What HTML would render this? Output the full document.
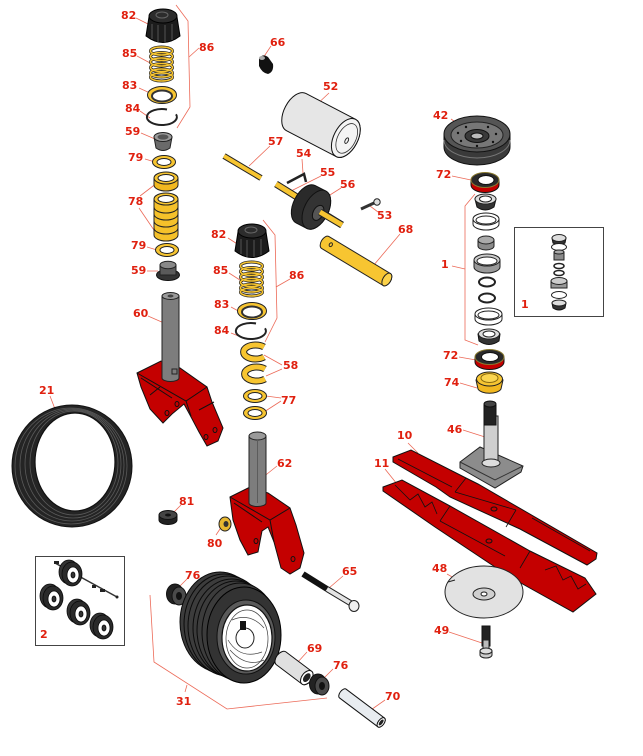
<!DOCTYPE html>
<html><head><meta charset="utf-8"><style>
html,body{margin:0;padding:0;background:#fff;}
svg{display:block;}
text{font-family:"DejaVu Sans","Liberation Sans",sans-serif;font-weight:bold;font-size:11px;fill:#e0200f;}
</style></head><body>
<svg width="643" height="756" viewBox="0 0 643 756" xmlns="http://www.w3.org/2000/svg" xmlns:xlink="http://www.w3.org/1999/xlink">
<defs>
  <g id="knob">
    <path d="M-14,1 L-17,20 Q0,33 17,20 L14,1 Z" fill="#1c1c1c" stroke="#000"/>
    <path d="M-11,8 V23 M-5,9 V26 M2,9 V26 M9,8 V24" stroke="#555"/>
    <ellipse cx="0" cy="0" rx="14" ry="7" fill="#2c2c2c" stroke="#000"/>
    <ellipse cx="-1" cy="-1" rx="6" ry="3" fill="none" stroke="#666"/>
  </g>
  <path id="coil" d="M-11,0 a11,4 0 1 0 22,0 a11,4 0 1 0 -22,0 M-11,5.5 a11,4 0 1 0 22,0 a11,4 0 1 0 -22,0 M-11,11 a11,4 0 1 0 22,0 a11,4 0 1 0 -22,0 M-11,16.5 a11,4 0 1 0 22,0 a11,4 0 1 0 -22,0 M-11,22 a11,4 0 1 0 22,0 a11,4 0 1 0 -22,0 M-11,26 a11,4 0 1 0 22,0 a11,4 0 1 0 -22,0"/>
  <g id="spring" fill="none">
    <use xlink:href="#coil" href="#coil" stroke="#222" stroke-width="3"/>
    <use xlink:href="#coil" href="#coil" stroke="#f7c531" stroke-width="1.6"/>
  </g>
  <g id="washer">
    <ellipse cx="0" cy="0" rx="11.5" ry="6.5" fill="#f7c531" stroke="#222"/>
    <ellipse cx="0" cy="0" rx="7" ry="3.5" fill="#fff" stroke="#222"/>
  </g>
  <g id="ring83">
    <ellipse cx="0" cy="0" rx="14.5" ry="8.5" fill="#f7c531" stroke="#222"/>
    <ellipse cx="0" cy="1" rx="10" ry="5.5" fill="#fff" stroke="#333" stroke-width="2"/>
  </g>
  <path id="snap" d="M14,-2.7 A15,8 0 1 1 5,-7.5" fill="none" stroke="#222" stroke-width="2"/>
  <g id="clip" fill="none">
    <path d="M10,-5 A12,7 0 1 0 10,5" stroke="#222" stroke-width="7"/>
    <path d="M10,-5 A12,7 0 1 0 10,5" stroke="#f7c531" stroke-width="5"/>
  </g>
  <g id="swhl" stroke="#0a0a0a" stroke-width="0.8">
    <ellipse cx="-3" cy="-2" rx="10" ry="12" fill="#333"/>
    <ellipse cx="0" cy="0" rx="10" ry="12" fill="#2a2a2a"/>
    <ellipse cx="1" cy="1" rx="6" ry="8" fill="#fff"/>
    <ellipse cx="1" cy="1" rx="2" ry="3" fill="#333"/>
  </g>
  <g id="bush">
    <ellipse cx="-4" cy="-2" rx="8.5" ry="10" fill="#222" stroke="#111"/>
    <ellipse cx="0" cy="0" rx="7" ry="9" fill="#4a4a4a" stroke="#111"/>
    <ellipse cx="0" cy="0" rx="3" ry="4" fill="#111"/>
  </g>
</defs>
<rect width="643" height="756" fill="#fff"/>

<g stroke="#ec6a58" stroke-width="0.8" fill="none">
  <polyline points="176,5 188,21 190,107 177,128"/>
  <polyline points="263,220 275,235 277,318 265,342"/>
  <polyline points="150,595 154,662 227,709 327,698"/>
  <polyline points="475,194 465,206 465,340 478,345"/>
  <path d="M199,48 L189,57 M136,18 L150,25 M137,56 L152,64 M139,88 L150,93 M140,111 L150,118 M141,133 L155,139 M145,159 L155,162 M140,196 L157,183 M139,208 L158,236 M147,247 L157,250 M147,271 L158,271 M148,316 L164,323 M50,396 L55,409"/>
  <path d="M271,46 L263,58 M329,93 L313,108 M270,146 L249,166 M302,159 L303,173 M321,176 L291,191 M341,188 L322,200 M378,212 L370,206 M400,234 L373,266"/>
  <path d="M290,279 L276,287 M228,238 L242,247 M229,273 L243,282 M231,307 L242,313 M231,333 L241,337 M282,365 L264,355 M282,369 L266,376 M281,398 L266,396 M281,401 L264,412 M277,466 L262,478"/>
  <path d="M181,505 L172,514 M216,535 L222,526 M188,578 L178,588 M343,576 L329,588 M307,652 L297,663 M333,669 L322,680 M385,700 L368,712 M187,685 L185,692"/>
  <path d="M451,119 L461,126 M452,176 L471,180 M452,266 L465,269 M459,357 L476,360 M460,383 L477,388 M463,430 L485,437 M408,443 L418,453 M385,469 L397,484 M447,574 L461,582 M449,632 L482,643"/>
</g>

<!-- column 1 -->
<use xlink:href="#knob" href="#knob" x="163" y="16"/>
<use xlink:href="#spring" href="#spring" x="161.5" y="51"/>
<use xlink:href="#ring83" href="#ring83" x="162" y="95"/>
<use xlink:href="#snap" href="#snap" x="162" y="117"/>
<path d="M154,137 L156,148 Q163,153 170,148 L172,137 Z" fill="#6a6a6a" stroke="#222"/>
<ellipse cx="163" cy="137" rx="9" ry="4.5" fill="#9a9a9a" stroke="#222"/>
<ellipse cx="163" cy="137" rx="5.5" ry="2.6" fill="#555"/>
<use xlink:href="#washer" href="#washer" x="164" y="162"/>
<path d="M154,178 L154,185 A12,6 0 0 0 178,185 L178,178 Z" fill="#f2b820" stroke="#222"/>
<ellipse cx="166" cy="178" rx="12" ry="6" fill="#f7c531" stroke="#222"/>
<ellipse cx="166" cy="178" rx="8" ry="3.5" fill="#fff" stroke="#222"/>
<path d="M154,199 L154,235 A12,6 0 0 0 178,235 L178,199 Z" fill="#f5c12a" stroke="#222"/>
<path d="M154,207 A12,6 0 0 0 178,207 M154,214 A12,6 0 0 0 178,214 M154,221 A12,6 0 0 0 178,221 M154,228 A12,6 0 0 0 178,228" fill="none" stroke="#222"/>
<ellipse cx="166" cy="199" rx="12" ry="6" fill="#f7c531" stroke="#222"/>
<ellipse cx="166" cy="199" rx="8" ry="3.5" fill="#fff" stroke="#222"/>
<use xlink:href="#washer" href="#washer" x="167" y="250"/>
<ellipse cx="168" cy="275" rx="11.5" ry="5.5" fill="#333" stroke="#111"/>
<rect x="160" y="265" width="16" height="10" fill="#5a5a5a" stroke="#222"/>
<ellipse cx="168" cy="265" rx="8" ry="3.8" fill="#888" stroke="#222"/>

<!-- bracket 60 -->
<path d="M137,373 L161,361 L180,368 L207,387 L212,402 L223,428 L218,441 L207,446 L199,432 L190,415 L184,404 L172,414 L163,423 L150,409 L141,387 Z" fill="#c40000" stroke="#111"/>
<path d="M137,373 L186,401 L207,387 M186,401 L191,416 M141,378 L172,398 M150,395 L160,387 M199,410 L214,402" stroke="#111" fill="none"/>
<g fill="#c40000" stroke="#111"><ellipse cx="167" cy="413" rx="2" ry="2.5"/><ellipse cx="177" cy="404" rx="2" ry="2.5"/><ellipse cx="206" cy="437" rx="2" ry="2.5"/><ellipse cx="215" cy="430" rx="2" ry="2.5"/></g>
<path d="M162,296 L162,378 A8.5,3.5 0 0 0 179,378 L179,296 Z" fill="#7d7d7d" stroke="#222"/>
<ellipse cx="170.5" cy="296" rx="8.5" ry="3.5" fill="#9a9a9a" stroke="#222"/>
<ellipse cx="170.5" cy="296" rx="3" ry="1.5" fill="#444"/>
<rect x="172" y="369" width="5" height="5" fill="none" stroke="#222"/>

<!-- belt 21 -->
<ellipse cx="72" cy="466" rx="60" ry="61" fill="#242424" stroke="#111"/>
<g fill="none" stroke="#5a5a5a" stroke-width="0.8">
  <ellipse cx="71" cy="466" rx="56" ry="58"/>
  <ellipse cx="72" cy="465" rx="52" ry="56"/>
  <ellipse cx="73" cy="464" rx="48" ry="54"/>
  <ellipse cx="74" cy="463" rx="44" ry="52"/>
</g>
<ellipse cx="75" cy="462" rx="40" ry="49" fill="#fff" stroke="#111" stroke-width="1.2"/>

<!-- column 2 -->
<use xlink:href="#knob" href="#knob" x="252" y="231"/>
<use xlink:href="#spring" href="#spring" x="251.5" y="266"/>
<use xlink:href="#ring83" href="#ring83" x="252" y="311"/>
<use xlink:href="#snap" href="#snap" x="251" y="331"/>
<use xlink:href="#clip" href="#clip" x="254" y="352"/>
<use xlink:href="#clip" href="#clip" x="255" y="374"/>
<use xlink:href="#washer" href="#washer" x="255" y="396"/>
<use xlink:href="#washer" href="#washer" x="255" y="413"/>

<!-- bracket 62 -->
<path d="M230,497 L250,487 L268,493 L290,508 L296,525 L304,553 L300,568 L290,574 L281,568 L274,542 L268,527 L262,531 L258,552 L248,555 L240,540 L233,520 Z" fill="#c40000" stroke="#111"/>
<path d="M230,497 L270,520 L290,508 M270,520 L274,542 M234,503 L262,522" stroke="#111" fill="none"/>
<g fill="#c40000" stroke="#111"><ellipse cx="256" cy="541" rx="2" ry="2.5"/><ellipse cx="293" cy="559" rx="2" ry="2.5"/></g>
<path d="M249,436 L249,503 A8.5,3.5 0 0 0 266,503 L266,436 Z" fill="#7d7d7d" stroke="#222"/>
<ellipse cx="257.5" cy="436" rx="8.5" ry="4" fill="#9a9a9a" stroke="#222"/>
<line x1="257.5" y1="440" x2="257.5" y2="503" stroke="#5c5c5c"/>

<!-- 81, 80, 76 -->
<path d="M159,515 L159,520 A9,4.5 0 0 0 177,520 L177,515 Z" fill="#222" stroke="#111"/>
<ellipse cx="168" cy="515" rx="9" ry="4.5" fill="#444" stroke="#111"/>
<ellipse cx="168" cy="515" rx="3" ry="1.5" fill="#111"/>
<ellipse cx="225" cy="524" rx="6" ry="7" fill="#e8b830" stroke="#222"/>
<ellipse cx="226" cy="524" rx="2.5" ry="3" fill="#333"/>
<use xlink:href="#bush" href="#bush" x="179" y="596"/>

<!-- roller parts -->
<path d="M259,59 Q262,53 268,57 L273,64 Q274,72 268,74 Q262,73 259,66 Z" fill="#111"/>
<ellipse cx="262" cy="58" rx="3" ry="2" fill="#aaa"/>
<g transform="translate(321,125) rotate(27.5)">
  <path d="M-28,-21 L28,-21 A12,21 0 0 1 28,21 L-28,21 A12,21 0 0 1 -28,-21 Z" fill="#e6e6e6" stroke="#111"/>
  <ellipse cx="28" cy="0" rx="12" ry="21" fill="#f4f4f4" stroke="#111"/>
  <ellipse cx="29" cy="0" rx="9" ry="16" fill="none" stroke="#333" stroke-width="0.8"/>
  <ellipse cx="30" cy="2" rx="1.5" ry="3" fill="none" stroke="#222"/>
</g>
<path d="M224,156 L261,178" stroke="#222" stroke-width="6"/>
<path d="M224,156 L261,178" stroke="#f7c531" stroke-width="4"/>
<polyline points="287,183 304,174 306,182" fill="none" stroke="#222" stroke-width="2.5"/>
<path d="M276,184 L342,225" stroke="#222" stroke-width="7"/>
<path d="M276,184 L342,225" stroke="#f7c531" stroke-width="5"/>
<g transform="translate(311,207) rotate(27)">
  <path d="M-6,-21 L6,-21 A12,21 0 0 1 6,21 L-6,21 A12,21 0 0 1 -6,-21 Z" fill="#2a2a2a" stroke="#111"/>
  <ellipse cx="6" cy="0" rx="12" ry="21" fill="#333" stroke="#111"/>
  <ellipse cx="9" cy="2" rx="5" ry="8" fill="#555" stroke="#111"/>
</g>
<path d="M320,212 L342,225" stroke="#222" stroke-width="7"/>
<path d="M320,212 L342,225" stroke="#f7c531" stroke-width="5"/>
<path d="M361,209 L374,203" stroke="#333" stroke-width="3"/>
<circle cx="377" cy="202" r="3.2" fill="#ddd" stroke="#222"/>
<g transform="translate(356,261) rotate(31)">
  <path d="M-36,-7 L36,-7 A4,7 0 0 1 36,7 L-36,7 A4,7 0 0 1 -36,-7 Z" fill="#f7c531" stroke="#222"/>
  <ellipse cx="36" cy="0" rx="4" ry="7" fill="#fbd24a" stroke="#222"/>
  <ellipse cx="-30" cy="-1" rx="1.5" ry="2" fill="none" stroke="#222"/>
</g>

<!-- column 3 -->
<path d="M444,134 L444,147 A33,18 0 0 0 510,147 L510,134 Z" fill="#3a3a3a" stroke="#111"/>
<path d="M444,140 A33,18 0 0 0 510,140" fill="none" stroke="#777"/>
<ellipse cx="477" cy="134" rx="33" ry="18" fill="#555" stroke="#111"/>
<ellipse cx="477" cy="135" rx="26" ry="13" fill="#777" stroke="#222"/>
<ellipse cx="477" cy="136" rx="12" ry="6.5" fill="#3a3a3a" stroke="#111"/>
<ellipse cx="477" cy="136" rx="6" ry="3" fill="#bbb" stroke="#111"/>
<g fill="#111"><circle cx="458" cy="133" r="1.2"/><circle cx="466" cy="127" r="1.2"/><circle cx="488" cy="127" r="1.2"/><circle cx="496" cy="134" r="1.2"/><circle cx="461" cy="141" r="1.2"/><circle cx="493" cy="142" r="1.2"/><circle cx="477" cy="146" r="1.2"/></g>

<path d="M471,180 L471,185 A14,7.5 0 0 0 499,185 L499,180 Z" fill="#c40000" stroke="#111"/>
<ellipse cx="485" cy="180" rx="14" ry="7.5" fill="#2a2a2a" stroke="#8a7a30"/>
<ellipse cx="486" cy="180" rx="8" ry="4.5" fill="#fff" stroke="#111"/>
<path d="M475,199 L477,207 Q485,213 494,207 L496,199 Z" fill="#333" stroke="#111"/>
<ellipse cx="485.5" cy="199" rx="10.5" ry="5" fill="#ddd" stroke="#222"/>
<ellipse cx="485.5" cy="199" rx="6" ry="3" fill="#fff" stroke="#222"/>
<path d="M473,219 L473,224 A13,6 0 0 0 499,224 L499,219 Z" fill="#fff" stroke="#222"/>
<ellipse cx="486" cy="219" rx="13" ry="6" fill="#fff" stroke="#222"/>
<ellipse cx="486" cy="220" rx="10" ry="4" fill="#fff" stroke="#222"/>
<path d="M478,240 L478,246 A8,4 0 0 0 494,246 L494,240 Z" fill="#8a8a8a" stroke="#222"/>
<ellipse cx="486" cy="240" rx="8" ry="4" fill="#aaa" stroke="#222"/>
<path d="M474,260 L474,267 A13,6 0 0 0 500,267 L500,260 Z" fill="#999" stroke="#222"/>
<ellipse cx="487" cy="260" rx="13" ry="6" fill="#ccc" stroke="#222"/>
<ellipse cx="487" cy="261" rx="10" ry="4" fill="#fff" stroke="#222"/>
<ellipse cx="487" cy="282" rx="8" ry="4.5" fill="none" stroke="#222" stroke-width="2"/>
<ellipse cx="487" cy="298" rx="8" ry="4.5" fill="none" stroke="#222" stroke-width="2"/>
<path d="M475,314 L475,319 A13.5,6 0 0 0 502,319 L502,314 Z" fill="#fff" stroke="#222"/>
<ellipse cx="488.5" cy="314" rx="13.5" ry="6" fill="#fff" stroke="#222"/>
<ellipse cx="488.5" cy="315" rx="10.5" ry="4" fill="#fff" stroke="#222"/>
<path d="M478,334 L479,341 Q489,348 499,341 L500,334 Z" fill="#333" stroke="#111"/>
<ellipse cx="489" cy="334" rx="10.5" ry="5" fill="#ddd" stroke="#222"/>
<ellipse cx="489" cy="334" rx="6" ry="3" fill="#fff" stroke="#222"/>
<path d="M475,357 L475,362 A14.5,7.5 0 0 0 504,362 L504,357 Z" fill="#c40000" stroke="#111"/>
<ellipse cx="489.5" cy="357" rx="14.5" ry="7.5" fill="#2a2a2a" stroke="#8a7a30"/>
<ellipse cx="490" cy="357" rx="8.5" ry="4.5" fill="#fff" stroke="#111"/>
<path d="M476,380 L478,389 A12,6 0 0 0 501,389 L503,380 Z" fill="#f2b820" stroke="#222"/>
<ellipse cx="489.5" cy="379" rx="13" ry="7" fill="#f7c531" stroke="#222"/>
<ellipse cx="489.5" cy="378" rx="8.5" ry="4.5" fill="#fbd54f" stroke="#8a6a10"/>

<!-- inset box 1 -->
<rect x="514.5" y="227.5" width="89" height="89" fill="none" stroke="#444"/>
<path d="M552,238 L553,243 Q559,247 565,243 L566,238 Z" fill="#333" stroke="#111"/>
<ellipse cx="559" cy="238" rx="7" ry="3.5" fill="#ddd" stroke="#222"/>
<ellipse cx="559" cy="247" rx="7.5" ry="3.5" fill="#fff" stroke="#222"/>
<rect x="554" y="252" width="10" height="8" fill="#8a8a8a" stroke="#222"/>
<ellipse cx="559" cy="252" rx="5" ry="2" fill="#aaa" stroke="#222"/>
<ellipse cx="559" cy="266" rx="5" ry="2.5" fill="none" stroke="#222" stroke-width="1.5"/>
<ellipse cx="559" cy="273" rx="5" ry="2.5" fill="none" stroke="#222" stroke-width="1.5"/>
<rect x="551" y="281" width="16" height="7" fill="#999" stroke="#222"/>
<ellipse cx="559" cy="281" rx="8" ry="3.5" fill="#ccc" stroke="#222"/>
<ellipse cx="559" cy="295" rx="7.5" ry="3.5" fill="#fff" stroke="#222"/>
<path d="M552,303 L553,308 Q559,312 565,308 L566,303 Z" fill="#333" stroke="#111"/>
<ellipse cx="559" cy="303" rx="7" ry="3" fill="#ddd" stroke="#222"/>

<!-- 46 spindle -->
<path d="M460,462 L480,447 L523,466 L521,472 L495,488 L460,468 Z" fill="#8c8c8c" stroke="#222"/>
<path d="M460,462 L495,480 L523,466" fill="none" stroke="#333"/>
<path d="M484,416 L484,462 A7,3 0 0 0 498,462 L498,416 Z" fill="#cfcfcf" stroke="#222"/>
<ellipse cx="491" cy="463" rx="9" ry="4" fill="#ddd" stroke="#222"/>
<rect x="484" y="405" width="12" height="20" fill="#222" stroke="#111"/>
<ellipse cx="490" cy="404" rx="6" ry="3" fill="#444" stroke="#111"/>

<!-- blades -->
<path d="M393,457 L411,450 L466,478 L478,484 L597,553 L596,559 L587,565 L520,529 L450,497 L436,487 L393,462 Z" fill="#c40000" stroke="#111"/>
<path d="M398,459 L452,487 M466,478 L455,492 M516,510 L506,527 M532,518 L590,551 M455,492 L516,510" stroke="#111" fill="none" stroke-width="0.8"/>
<ellipse cx="494" cy="509" rx="3" ry="2" fill="#c40000" stroke="#111"/>
<path d="M383,487 L402,480 L450,506 L530,551 L585,578 L596,594 L573,612 L510,577 L435,527 L383,491 Z" fill="#c40000" stroke="#111"/>
<path d="M395,485 L410,500 L418,494 L425,507 L432,502 L437,514 M450,506 L440,521 M440,521 L505,556 M530,551 L520,568 M545,570 L556,566 L563,580 L571,576 L578,589 L586,584" stroke="#111" fill="none" stroke-width="0.8"/>
<ellipse cx="489" cy="541" rx="3" ry="2" fill="#c40000" stroke="#111"/>

<!-- 48 plate, 49 bolt -->
<ellipse cx="484" cy="592" rx="39" ry="26" fill="#e2e2e2" stroke="#222"/>
<path d="M448,582 L455,580" stroke="#222"/>
<ellipse cx="484" cy="594" rx="11" ry="6" fill="#cfcfcf" stroke="#222"/>
<ellipse cx="484" cy="594" rx="3" ry="2" fill="#fff" stroke="#222"/>
<rect x="482" y="626" width="8" height="20" fill="#222" stroke="#111"/>
<rect x="483" y="640" width="6" height="10" fill="#bbb" stroke="#222"/>
<path d="M480,651 L480,655 A6,3 0 0 0 492,655 L492,651 Z" fill="#ccc" stroke="#222"/>
<ellipse cx="486" cy="651" rx="6" ry="3" fill="#ddd" stroke="#222"/>

<!-- 65 bolt -->
<path d="M303,574 L327,589" stroke="#111" stroke-width="6"/>
<path d="M327,589 L352,604" stroke="#222" stroke-width="6"/>
<path d="M327,589 L352,604" stroke="#e4e4e4" stroke-width="4"/>
<ellipse cx="354" cy="606" rx="5" ry="5.5" fill="#eee" stroke="#222"/>

<!-- tire 31 -->
<g stroke="#0a0a0a" fill="#3c3c3c">
  <ellipse cx="220" cy="622" rx="40" ry="50"/>
  <ellipse cx="224" cy="624" rx="40" ry="50"/>
  <ellipse cx="228" cy="626" rx="40" ry="50"/>
  <ellipse cx="232" cy="628" rx="39" ry="49"/>
  <ellipse cx="236" cy="630" rx="39" ry="49"/>
  <ellipse cx="240" cy="632" rx="38" ry="49"/>
</g>
<ellipse cx="244" cy="635" rx="37" ry="48" fill="#333" stroke="#000"/>
<ellipse cx="246" cy="637" rx="29" ry="37" fill="#5a5a5a" stroke="#111"/>
<ellipse cx="247" cy="638" rx="25" ry="33" fill="#fff" stroke="#111" stroke-width="1.2"/>
<g fill="none" stroke="#444" stroke-width="0.7">
  <ellipse cx="247" cy="639" rx="21" ry="29"/>
  <path d="M228,640 Q240,660 262,652 M232,620 Q250,612 264,628 M230,650 Q246,668 264,660"/>
</g>
<ellipse cx="245" cy="638" rx="9" ry="10" fill="#fff" stroke="#222"/>
<rect x="240" y="621" width="6" height="9" fill="#111"/>

<!-- 69, 76, 70 -->
<g transform="translate(294,668) rotate(37)">
  <path d="M-16,-8 L16,-8 A5,8 0 0 1 16,8 L-16,8 A5,8 0 0 1 -16,-8 Z" fill="#e0e0e0" stroke="#111"/>
  <ellipse cx="16" cy="0" rx="5" ry="8" fill="#fff" stroke="#111"/>
  <ellipse cx="16" cy="0" rx="3" ry="5" fill="#222"/>
</g>
<use xlink:href="#bush" href="#bush" x="322" y="686"/>
<g transform="translate(362,708) rotate(37)">
  <path d="M-24,-5.5 L24,-5.5 A3,5.5 0 0 1 24,5.5 L-24,5.5 A3,5.5 0 0 1 -24,-5.5 Z" fill="#e8ecf0" stroke="#111"/>
  <ellipse cx="24" cy="0" rx="3" ry="5.5" fill="#fff" stroke="#111"/>
  <ellipse cx="24" cy="0" rx="1.6" ry="3.5" fill="#222"/>
</g>

<!-- inset box 2 -->
<rect x="35.5" y="556.5" width="89" height="89" fill="none" stroke="#444"/>
<path d="M55,563 L117,597" stroke="#333" stroke-width="1.5"/>
<g fill="#222"><rect x="54" y="561" width="5" height="3"/><rect x="92" y="585" width="4" height="3"/><rect x="100" y="589" width="5" height="3"/><circle cx="117" cy="597" r="1.5"/></g>
<use xlink:href="#swhl" href="#swhl" x="72" y="574"/>
<use xlink:href="#swhl" href="#swhl" x="53" y="598"/>
<use xlink:href="#swhl" href="#swhl" x="80" y="613"/>
<use xlink:href="#swhl" href="#swhl" x="103" y="627"/>

<!-- labels -->
<text x="121" y="19">82</text>
<text x="122" y="57">85</text>
<text x="199" y="51">86</text>
<text x="122" y="89">83</text>
<text x="125" y="112">84</text>
<text x="125" y="135">59</text>
<text x="128" y="161">79</text>
<text x="128" y="205">78</text>
<text x="131" y="249">79</text>
<text x="131" y="274">59</text>
<text x="133" y="317">60</text>
<text x="39" y="394">21</text>
<text x="270" y="46">66</text>
<text x="323" y="90">52</text>
<text x="268" y="145">57</text>
<text x="296" y="157">54</text>
<text x="320" y="176">55</text>
<text x="340" y="188">56</text>
<text x="377" y="219">53</text>
<text x="398" y="233">68</text>
<text x="211" y="238">82</text>
<text x="213" y="274">85</text>
<text x="289" y="279">86</text>
<text x="214" y="308">83</text>
<text x="214" y="334">84</text>
<text x="283" y="369">58</text>
<text x="281" y="404">77</text>
<text x="277" y="467">62</text>
<text x="179" y="505">81</text>
<text x="207" y="547">80</text>
<text x="185" y="579">76</text>
<text x="342" y="575">65</text>
<text x="307" y="652">69</text>
<text x="333" y="669">76</text>
<text x="385" y="700">70</text>
<text x="176" y="705">31</text>
<text x="40" y="638">2</text>
<text x="433" y="119">42</text>
<text x="436" y="178">72</text>
<text x="441" y="268">1</text>
<text x="521" y="308">1</text>
<text x="443" y="359">72</text>
<text x="444" y="386">74</text>
<text x="447" y="433">46</text>
<text x="397" y="439">10</text>
<text x="374" y="467">11</text>
<text x="432" y="572">48</text>
<text x="434" y="634">49</text>
</svg>
</body></html>
